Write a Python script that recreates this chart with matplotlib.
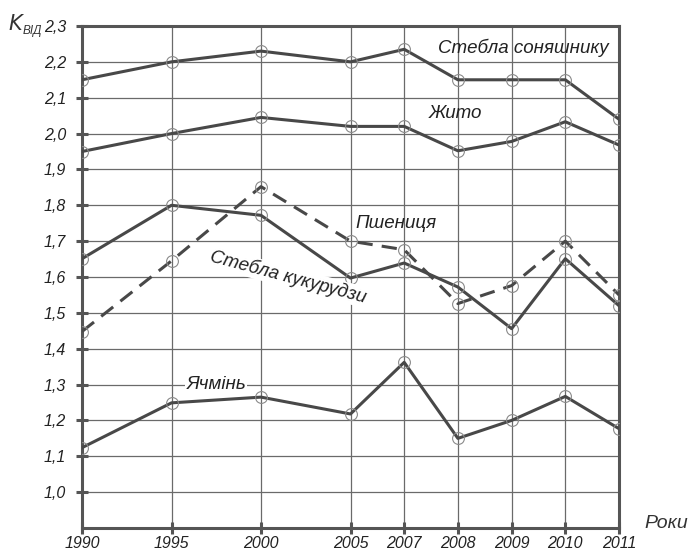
import matplotlib
matplotlib.use("Agg")
import matplotlib.pyplot as plt

# years on the x axis and their spacing on the sheet (first gaps are wider)
years = ["1990", "1995", "2000", "2005", "2007", "2008", "2009", "2010", "2011"]
year_pos = [0, 5, 10, 15, 18, 21, 24, 27, 30]

sunflower = [2.15, 2.20, 2.23, 2.20, 2.235, 2.15, 2.15, 2.15, 2.04]
rye = [1.95, 2.00, 2.045, 2.02, 2.02, 1.952, 1.978, 2.033, 1.968]
wheat = [1.651, 1.80, 1.772, 1.597, 1.639, 1.572, 1.456, 1.651, 1.52]
corn = [1.448, 1.645, 1.852, 1.70, 1.676, 1.526, 1.576, 1.70, 1.55]
barley = [1.124, 1.249, 1.265, 1.218, 1.362, 1.15, 1.20, 1.267, 1.177]

yticks = [1.0, 1.1, 1.2, 1.3, 1.4, 1.5, 1.6, 1.7, 1.8, 1.9, 2.0, 2.1, 2.2, 2.3]

plt.rcParams['font.family'] = ['Liberation Sans', 'DejaVu Sans']
plt.rcParams['font.style'] = 'italic'

fig = plt.figure(figsize=(6.91, 5.51), dpi=100)
ax = fig.add_axes([82 / 691, 1 - 528 / 551, 537 / 691, 502 / 551])

line_col = '#484848'
mk = dict(marker='o', markersize=8.5, markerfacecolor='none',
          markeredgecolor='#8a8a8a', markeredgewidth=0.8)

ax.plot(year_pos, sunflower, color=line_col, lw=2.2, zorder=3, **mk)
ax.plot(year_pos, rye, color=line_col, lw=2.2, zorder=3, **mk)
ax.plot(year_pos, wheat, color=line_col, lw=2.2, zorder=3, **mk)
ax.plot(year_pos, corn, color=line_col, lw=2.2, ls=(0, (5, 3)), zorder=3, **mk)
ax.plot(year_pos, barley, color=line_col, lw=2.2, zorder=3, **mk)

ax.set_xlim(year_pos[0], year_pos[-1])
ax.set_ylim(0.9, 2.3)
ax.set_xticks(year_pos)
ax.set_xticklabels(years)
ax.set_yticks(yticks)
ax.set_yticklabels([f"{v:.1f}".replace('.', ',') for v in yticks])

ax.grid(True, color='#6a6a6a', lw=0.9)
ax.set_axisbelow(True)
for s in ax.spines.values():
    s.set_linewidth(2.2)
    s.set_color('#555555')
ax.tick_params(direction='inout', length=9, width=2.2, color='#555555',
               labelsize=11.5)
ax.tick_params(axis='x', pad=1)
ax.tick_params(axis='y', pad=7)
for lab in ax.get_xticklabels() + ax.get_yticklabels():
    lab.set_fontstyle('italic')
    lab.set_color('#222222')

# curve labels
tkw = dict(fontsize=13.5, style='italic', color='#222222')
ax.text(29.4, 2.24, "Стебла соняшнику", ha='right', va='center', **tkw)
ax.text(19.4, 2.055, "Жито", ha='left', va='center', **tkw)
ax.text(15.3, 1.75, "Пшениця", ha='left', va='center', **tkw)
ax.text(11.5, 1.6, "Стебла кукурудзи", ha='center', va='center', rotation=-15,
        bbox=dict(facecolor='white', edgecolor='none', pad=1), **tkw)
ax.text(7.5, 1.3, "Ячмінь", ha='center', va='center',
        bbox=dict(facecolor='white', edgecolor='none', pad=1), **tkw)

fig.text(8 / 691, 1 - 24 / 551, "$K$", fontsize=15, color='#333333',
         ha='left', va='center')
fig.text(23 / 691, 1 - 31 / 551, "ВІД", fontsize=8.5, color='#333333',
         ha='left', va='center', style='italic')
fig.text(644 / 691, 1 - 523 / 551, "Роки", fontsize=14, color='#333333',
         ha='left', va='center', style='italic')

fig.savefig("out.png", dpi=100, facecolor='white')
